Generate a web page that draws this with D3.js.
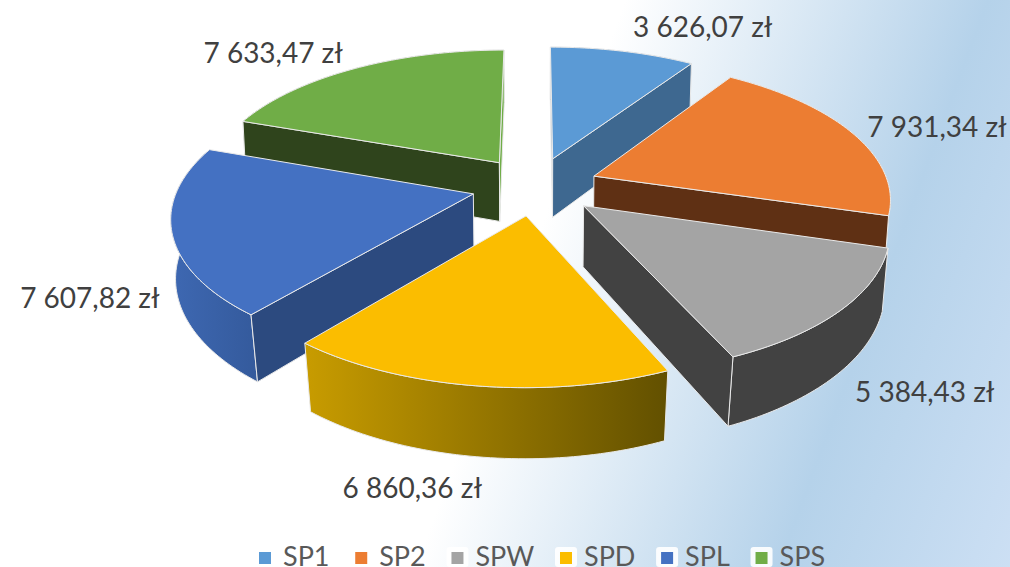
<!DOCTYPE html>
<html><head><meta charset="utf-8">
<script src="https://cdn.jsdelivr.net/npm/d3@7"></script>
<style>html,body{margin:0;padding:0;background:#fff;overflow:hidden}svg{display:block}</style>
</head><body><svg id="c" width="1010" height="567"></svg>
<script>
const categories = ["SP1","SP2","SPW","SPD","SPL","SPS"];
const values = [3626.07,7931.34,5384.43,6860.36,7607.82,7633.47];
const topColors = ["#5b9ad5","#ec7d32","#a4a4a4","#fbbd00","#4471c2","#70ad47"];
const faceColors = ["#3e6890","#5f3014","#424242","#9a7500","#2c4a7f","#2f441c"];
const wallStops = [["#3e6890","#3e6890"],["#5f3014","#5f3014"],["#424242","#424242"],["#c89c00","#625000"],["#3e68b2","#345a9c"],["#2f441c","#2f441c"]];
const labelOffsets = [[80,-25],[85,-7],[84,81],[-63,101],[-82,65],[-82,-16]];
const drawOrder = [0,5,1,4,2,3];

const W=1010,H=567;
const centre={x:535,y:186}, A=295, B=136, K=0.15, EXPLODE=0.215, DEPTH=60, BY=1.055;
const svg=d3.select("#c");
const defs=svg.append("defs");
const bg=defs.append("linearGradient").attr("id","bg").attr("gradientUnits","userSpaceOnUse")
  .attr("x1",0).attr("y1",0).attr("x2",1100).attr("y2",407);
[[0,"#ffffff"],[0.5,"#ffffff"],[0.79,"#b5d2ea"],[1,"#cfe1f5"]].forEach(s=>bg.append("stop").attr("offset",s[0]).attr("stop-color",s[1]));
svg.append("rect").attr("width",W).attr("height",H).attr("fill","url(#bg)");

const pie=d3.pie().sort(null).value(d=>d);
const arcs=pie(values);
const mid=a=>(a.startAngle+a.endAngle)/2;
// project a point on the pie's plane: slice a exploded along its bisector, r=1 on the rim, r=0 at the tip
const topPt=(a,t,r=1)=>{
  const m=mid(a),X=EXPLODE*Math.sin(m)+r*Math.sin(t),Y=EXPLODE*Math.cos(m)+r*Math.cos(t),d=1+K*Y;
  return [centre.x+A*X/d,centre.y-B*Y/d];
};
const bxScale=d3.scaleLinear().domain([0,150]).range([0.99,0.975]).clamp(true);
const botPt=(a,t,r=1)=>{const p=topPt(a,t,r);return [centre.x+bxScale(p[1]-centre.y)*(p[0]-centre.x),centre.y+DEPTH+BY*(p[1]-centre.y)];};
const line=d3.line();
const angles=(a,b)=>{const n=Math.max(2,Math.ceil((b-a)/0.02));return d3.range(n+1).map(i=>a+(b-a)*i/n);};
const EDGE="#e9e9e9";
const EPS=1e-6;
const group=svg.append("g").attr("stroke",EDGE).attr("stroke-width",1).attr("stroke-linejoin","round");
drawOrder.forEach(i=>{
  const a=arcs[i],g=group.append("g"),tip=topPt(a,0,0),botTip=botPt(a,0,0);
  const ang=angles(a.startAngle,a.endAngle);
  const wall=ang.map(t=>topPt(a,t)).concat(ang.slice().reverse().map(t=>botPt(a,t)));
  const xr=d3.extent(wall,p=>p[0]);
  const lg=defs.append("linearGradient").attr("id","wall"+i).attr("gradientUnits","userSpaceOnUse")
    .attr("x1",xr[0]).attr("x2",xr[1]).attr("y1",0).attr("y2",0);
  lg.append("stop").attr("offset",0).attr("stop-color",wallStops[i][0]);
  lg.append("stop").attr("offset",1).attr("stop-color",wallStops[i][1]);
  g.append("path").attr("d",line(wall)+"Z").attr("fill","url(#wall"+i+")");
  if(Math.sin(a.startAngle)<=EPS)
    g.append("path").attr("d",line([tip,topPt(a,a.startAngle),botPt(a,a.startAngle),botTip])+"Z").attr("fill",i===0?"#8fa9bf":faceColors[i]);
  if(Math.sin(a.endAngle)>=-EPS)
    g.append("path").attr("d",line([tip,topPt(a,a.endAngle),botPt(a,a.endAngle),botTip])+"Z").attr("fill",i===5?topColors[5]:faceColors[i]);
  g.append("path").attr("d",line([tip].concat(ang.map(t=>topPt(a,t))))+"Z").attr("fill",topColors[i]);
});

const fmt=d3.formatLocale({decimal:",",thousands:" ",grouping:[3],currency:["","zł"]}).format(",.2f");
const FONT="Lato, 'Open Sans', sans-serif";
svg.append("g").selectAll("text").data(arcs).join("text")
  .attr("x",(a,i)=>topPt(a,mid(a))[0]+labelOffsets[i][0])
  .attr("y",(a,i)=>topPt(a,mid(a))[1]+labelOffsets[i][1])
  .attr("text-anchor","middle").attr("dominant-baseline","central")
  .attr("font-family",FONT).attr("font-size",28).attr("fill","#404040")
  .text(a=>fmt(a.value)+" zł");

const legend=svg.append("g");
let lx=259;
categories.forEach((c,i)=>{
  if(i>0) legend.append("rect").attr("x",lx-5).attr("y",547).attr("width",22).attr("height",20).attr("rx",3).attr("fill","#fff").attr("opacity",0.9);
  legend.append("rect").attr("x",lx).attr("y",552).attr("width",12).attr("height",12).attr("fill",topColors[i]);
  const t=legend.append("text").attr("x",lx+24).attr("y",566).attr("font-family",FONT).attr("font-size",27).attr("fill","#595959").text(c);
  lx+=24+t.node().getComputedTextLength()+25.7;
});
</script></body></html>
